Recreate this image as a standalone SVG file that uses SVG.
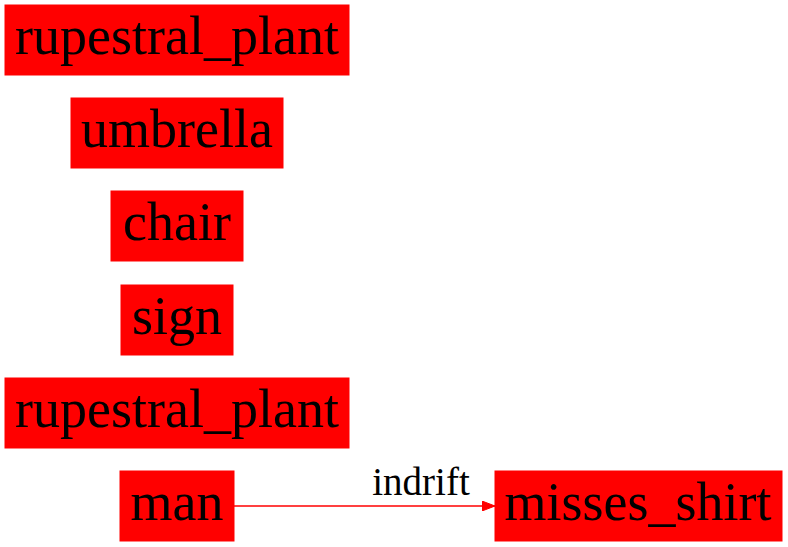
<svg xmlns="http://www.w3.org/2000/svg" width="788" height="547" viewBox="0 0 788 547">
<style>
.box{fill:#ff0000;stroke:#ff0000;stroke-width:1}
.t{font-family:"Liberation Serif","Times New Roman",serif;font-size:54px;fill:#000;text-anchor:middle}
.lbl{font-family:"Liberation Serif","Times New Roman",serif;font-size:39px;fill:#000;text-anchor:middle}
</style>
<defs>
<marker id="ah" markerWidth="14" markerHeight="10" refX="13" refY="5" orient="auto" markerUnits="userSpaceOnUse">
<path d="M0,0 L13,5 L0,10 Z" fill="#ff0000" stroke="#ff0000"/>
</marker>
</defs>
<g id="n1"><rect class="box" x="5" y="5" width="344" height="70"/><text class="t" x="177" y="54">rupestral_plant</text></g>
<g id="n2"><rect class="box" x="71" y="98" width="212" height="70"/><text class="t" x="177" y="147">umbrella</text></g>
<g id="n3"><rect class="box" x="111" y="191" width="132" height="70"/><text class="t" x="177" y="240">chair</text></g>
<g id="n4"><rect class="box" x="121" y="285" width="112" height="70"/><text class="t" x="177" y="334">sign</text></g>
<g id="n5"><rect class="box" x="5" y="378" width="344" height="70"/><text class="t" x="177" y="427">rupestral_plant</text></g>
<g id="n6"><rect class="box" x="120" y="471" width="114" height="70"/><text class="t" x="177" y="520">man</text></g>
<g id="n7"><rect class="box" x="495" y="471" width="287" height="70"/><text class="t" x="638" y="520">misses_shirt</text></g>
<g id="edges">
<line x1="234" y1="506" x2="495" y2="506" stroke="#ff0000" stroke-width="1.3" marker-end="url(#ah)"/>
<text class="lbl" x="421" y="495">indrift</text>
</g>
</svg>
